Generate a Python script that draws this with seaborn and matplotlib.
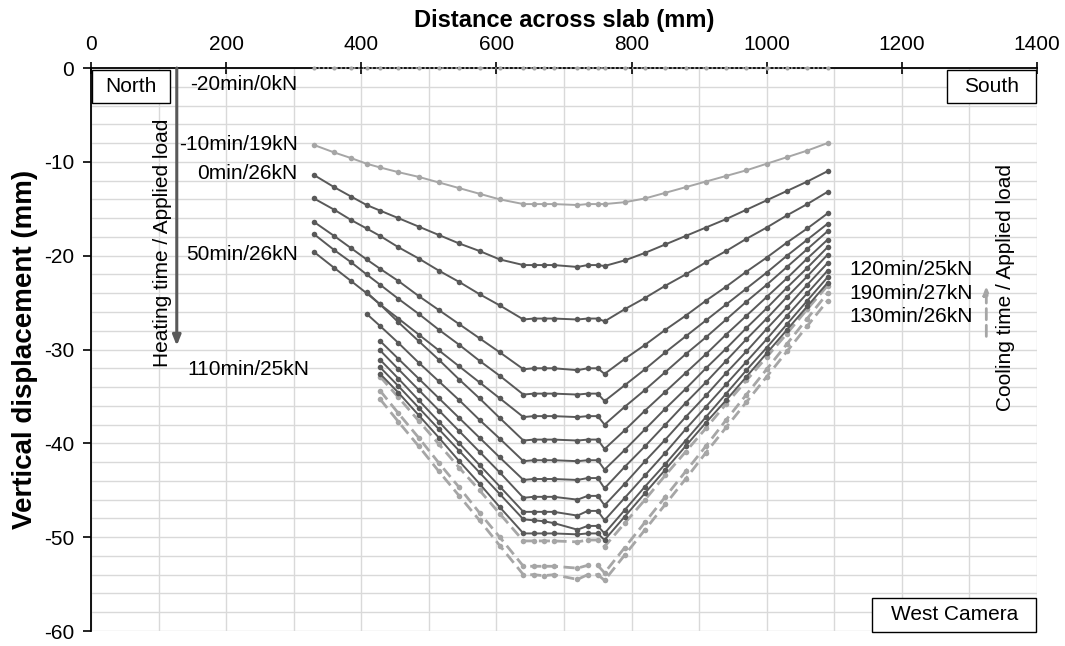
import numpy as np
import matplotlib
matplotlib.use("Agg")
import matplotlib.pyplot as plt
from matplotlib.patches import Rectangle
import seaborn as sns

# ---------------------------------------------------------------------------
# style
# ---------------------------------------------------------------------------
sns.set_theme(style="white")
plt.rcParams['font.family'] = ['Liberation Sans', 'DejaVu Sans']
plt.rcParams['axes.unicode_minus'] = False
plt.rcParams['text.color'] = 'black'
plt.rcParams['axes.labelcolor'] = 'black'

DARK = "#595959"
LIGHT = "#a6a6a6"
GRID = "#d9d9d9"

nan = np.nan

# target positions across the slab (mm)
X = [330, 360, 385, 408, 428, 455, 485, 515, 545, 575, 605, 640,
     655, 670, 685, 720, 735, 750, 760,
     790, 820, 850, 880, 910, 940, 970, 1000, 1030, 1060, 1090]

# heating stage (solid)
y_m20 = [0.0, 0.0, 0.0, 0.0, 0.0, 0.0, 0.0, 0.0, 0.0, 0.0, 0.0, 0.0,
         0.0, 0.0, 0.0, 0.0, 0.0, 0.0, 0.0,
         0.0, 0.0, 0.0, 0.0, 0.0, 0.0, 0.0, 0.0, 0.0, 0.0, 0.0]
y_m10 = [-8.2, -9.0, -9.6, -10.2, -10.6, -11.1, -11.6, -12.2, -12.8, -13.4, -14.0, -14.5,
         -14.5, -14.5, -14.5, -14.6, -14.5, -14.5, -14.5,
         -14.3, -13.9, -13.3, -12.7, -12.1, -11.5, -10.9, -10.2, -9.5, -8.8, -8.0]
y_0 = [-11.4, -12.7, -13.7, -14.6, -15.2, -16.0, -16.9, -17.8, -18.7, -19.5, -20.4, -21.0,
       -21.0, -21.0, -21.0, -21.2, -21.0, -21.0, -21.1,
       -20.5, -19.7, -18.8, -17.9, -17.0, -16.1, -15.1, -14.1, -13.1, -12.1, -11.0]
y_10 = [-13.9, -15.1, -16.2, -17.1, -17.9, -19.1, -20.3, -21.6, -22.8, -24.1, -25.3, -26.8,
        -26.7, -26.7, -26.7, -26.8, -26.7, -26.7, -27.0,
        -25.7, -24.5, -23.2, -22.0, -20.7, -19.5, -18.2, -17.0, -15.7, -14.5, -13.2]
y_20 = [-16.4, -17.9, -19.2, -20.4, -21.4, -22.7, -24.3, -25.8, -27.3, -28.8, -30.3, -32.1,
        -32.0, -32.0, -32.0, -32.2, -32.0, -32.0, -32.6,
        -31.0, -29.5, -27.9, -26.4, -24.8, -23.3, -21.7, -20.2, -18.6, -17.1, -15.5]
y_30 = [-17.7, -19.4, -20.7, -22.0, -23.1, -24.6, -26.2, -27.9, -29.5, -31.2, -32.8, -34.8,
        -34.7, -34.7, -34.7, -34.8, -34.7, -34.7, -35.5,
        -33.8, -32.1, -30.3, -28.6, -26.9, -25.2, -23.5, -21.8, -20.0, -18.3, -16.6]
y_40 = [-19.6, -21.3, -22.7, -24.0, -25.2, -26.7, -28.4, -30.1, -31.8, -33.5, -35.2, -37.2,
        -37.1, -37.1, -37.1, -37.2, -37.1, -37.1, -38.0,
        -36.1, -34.3, -32.4, -30.5, -28.7, -26.8, -24.9, -23.1, -21.2, -19.3, -17.4]
y_50 = [nan, nan, nan, -23.9, -25.2, -27.1, -29.1, -31.1, -33.2, -35.2, -37.3, -39.7,
        -39.6, -39.6, -39.6, -39.7, -39.6, -39.6, -40.6,
        -38.6, -36.5, -34.5, -32.5, -30.5, -28.4, -26.4, -24.4, -22.4, -20.3, -18.3]
y_60 = [nan, nan, nan, -26.2, -27.5, -29.3, -31.4, -33.4, -35.4, -37.5, -39.5, -41.9,
        -41.8, -41.8, -41.8, -41.9, -41.8, -41.8, -42.8,
        -40.7, -38.5, -36.3, -34.2, -32.0, -29.9, -27.7, -25.6, -23.4, -21.3, -19.1]
y_70 = [nan, nan, nan, nan, -29.1, -31.0, -33.1, -35.2, -37.3, -39.4, -41.5, -43.9,
        -43.8, -43.8, -43.8, -43.9, -43.7, -43.7, -44.8,
        -42.5, -40.3, -38.0, -35.7, -33.5, -31.2, -28.9, -26.7, -24.4, -22.2, -19.9]
y_80 = [nan, nan, nan, nan, -30.1, -32.1, -34.3, -36.5, -38.7, -40.9, -43.1, -45.8,
        -45.7, -45.7, -45.7, -46.0, -45.6, -45.6, -46.6,
        -44.3, -41.9, -39.6, -37.2, -34.9, -32.5, -30.2, -27.8, -25.5, -23.1, -20.8]
y_90 = [nan, nan, nan, nan, -31.1, -33.1, -35.4, -37.7, -40.0, -42.3, -44.6, -47.3,
        -47.3, -47.3, -47.3, -47.7, -47.2, -47.2, -48.2,
        -45.8, -43.4, -41.0, -38.5, -36.1, -33.7, -31.3, -28.9, -26.4, -24.0, -21.6]
y_100 = [nan, nan, nan, nan, -31.9, -33.9, -36.2, -38.5, -40.8, -43.1, -45.4, -48.1,
         -48.2, -48.3, -48.5, -49.2, -48.8, -48.8, -49.6,
         -47.1, -44.6, -42.2, -39.7, -37.2, -34.7, -32.2, -29.8, -27.3, -24.8, -22.3]
y_110 = [nan, nan, nan, nan, -32.6, -34.6, -37.0, -39.4, -41.9, -44.3, -46.8, -49.6,
         -49.6, -49.6, -49.6, -49.7, -49.6, -49.6, -50.3,
         -47.8, -45.3, -42.8, -40.3, -37.8, -35.4, -32.9, -30.4, -27.9, -25.4, -22.9]

# cooling stage (dashed)
y_120 = [nan, nan, nan, nan, -32.9, -35.1, -37.6, -40.1, -42.6, -45.0, -47.5, -50.4,
         -50.4, -50.4, -50.4, -50.5, -50.3, -50.3, -51.0,
         -48.5, -46.0, -43.4, -40.9, -38.4, -35.8, -33.3, -30.8, -28.3, -25.7, -23.2]
y_190 = [nan, nan, nan, nan, -34.4, -36.8, -39.4, -42.1, -44.7, -47.4, -50.0, -53.1,
         -53.1, -53.1, -53.1, -53.3, -53.0, -53.0, -53.8,
         -51.1, -48.4, -45.7, -43.0, -40.3, -37.5, -34.8, -32.1, -29.4, -26.7, -24.0]
y_130 = [nan, nan, nan, nan, -35.3, -37.7, -40.3, -43.0, -45.6, -48.2, -50.9, -54.0,
         -54.0, -54.1, -54.0, -54.5, -54.0, -54.0, -54.6,
         -51.9, -49.2, -46.5, -43.8, -41.0, -38.3, -35.6, -32.9, -30.2, -27.5, -24.8]

HEATING = [y_0, y_10, y_20, y_30, y_40, y_50, y_60, y_70, y_80, y_90, y_100, y_110]
COOLING = [y_120, y_190, y_130]

HEAT_LABELS = [("-20min/0kN", -1.8), ("-10min/19kN", -8.1), ("0min/26kN", -11.2),
               ("50min/26kN", -19.9)]
COOL_LABELS = [("120min/25kN", -21.5), ("190min/27kN", -24.0), ("130min/26kN", -26.5)]


def draw():
    fig = plt.figure(figsize=(10.65, 6.46), dpi=100)
    ax = fig.add_axes([0.0854, 0.0232, 0.8883, 0.8715])

    # --- curves ---
    sns.lineplot(x=X, y=y_m20, ax=ax, color=LIGHT, lw=1.2, linestyle=':',
                 marker='o', markersize=3, markeredgewidth=0, zorder=4, clip_on=False)
    sns.lineplot(x=X, y=y_m10, ax=ax, color=LIGHT, lw=1.4,
                 marker='o', markersize=4, markeredgewidth=0, zorder=3)
    for ys in HEATING:
        sns.lineplot(x=X, y=ys, ax=ax, color=DARK, lw=1.4,
                     marker='o', markersize=4, markeredgewidth=0, zorder=3)
    for ys in COOLING:
        sns.lineplot(x=X, y=ys, ax=ax, color=LIGHT, lw=2.0, linestyle=(0, (4, 2)),
                     marker='o', markersize=4, markeredgewidth=0, zorder=2)

    # --- axes ---
    ax.set_xlim(0, 1400)
    ax.set_ylim(-60, 0)
    ax.xaxis.tick_top()
    ax.xaxis.set_label_position('top')
    ax.set_xticks(range(0, 1401, 200))
    ax.set_xticks(range(0, 1401, 100), minor=True)
    ax.set_yticks(range(-60, 1, 10))
    ax.set_yticks(range(-60, 1, 2), minor=True)
    ax.grid(which='both', color=GRID, lw=1.0)
    ax.set_axisbelow(True)

    for side in ('right', 'bottom'):
        ax.spines[side].set_visible(False)
    for side in ('left', 'top'):
        ax.spines[side].set_color('black')
        ax.spines[side].set_linewidth(1.3)

    ax.tick_params(axis='x', which='major', direction='inout', length=8, width=1.2,
                   labelsize=15, pad=6, colors='black', top=True, bottom=False)
    ax.tick_params(axis='y', which='major', direction='out', length=6, width=1.2,
                   labelsize=15, pad=6, colors='black', left=True)
    ax.tick_params(which='minor', length=0)

    ax.set_xlabel('Distance across slab (mm)', fontsize=17, fontweight='bold', labelpad=6)
    ax.set_ylabel('Vertical displacement (mm)', fontsize=20, fontweight='bold', labelpad=4)

    # --- boxes ---
    boxes = [("North", 0.001, 0.938, 0.083, 0.059),
             ("South", 0.905, 0.938, 0.094, 0.059),
             ("West Camera", 0.826, -0.002, 0.173, 0.061)]
    for txt, bx, by, bw, bh in boxes:
        ax.add_patch(Rectangle((bx, by), bw, bh, transform=ax.transAxes, fc='white',
                               ec='black', lw=1.0, zorder=5, clip_on=False))
        ax.text(bx + bw / 2, by + bh / 2, txt, transform=ax.transAxes, ha='center',
                va='center', fontsize=15, zorder=6)

    # --- heating annotations ---
    ax.annotate('', xy=(127, -29.6), xytext=(127, 0),
                arrowprops=dict(arrowstyle='-|>,head_length=0.5,head_width=0.2',
                                color=DARK, lw=2.2, shrinkA=0, shrinkB=0), zorder=5)
    ax.text(106, -18.6, 'Heating time / Applied load', rotation=90, ha='center',
            va='center', fontsize=15)
    for txt, yv in HEAT_LABELS:
        ax.text(306, yv, txt, ha='right', va='center', fontsize=15)
    ax.text(143, -32.1, '110min/25kN', ha='left', va='center', fontsize=15)

    # --- cooling annotations ---
    for txt, yv in COOL_LABELS:
        ax.text(1122, yv, txt, ha='left', va='center', fontsize=15)
    ax.annotate('', xy=(1325, -23.2), xytext=(1325, -28.6),
                arrowprops=dict(arrowstyle='-|>,head_length=0.4,head_width=0.15',
                                color=LIGHT, lw=2.0, linestyle=(0, (4, 2)),
                                shrinkA=0, shrinkB=0))
    ax.text(1353, -23.4, 'Cooling time / Applied load', rotation=90, ha='center',
            va='center', fontsize=15)

    fig.savefig('out.png', dpi=100)


if __name__ == "__main__":
    draw()
